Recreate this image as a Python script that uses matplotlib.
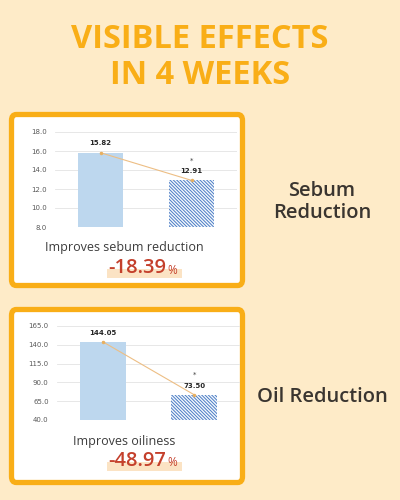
import matplotlib
matplotlib.use("Agg")
import matplotlib.pyplot as plt
from matplotlib.patches import FancyBboxPatch, Rectangle

# data
groups = ["Before", "4 weeks"]
sebum_values = [15.82, 12.91]
sebum_ticks = [8.0, 10.0, 12.0, 14.0, 16.0, 18.0]
oil_values = [144.05, 73.50]
oil_ticks = [40.0, 65.0, 90.0, 115.0, 140.0, 165.0]

title_lines = ["VISIBLE EFFECTS", "IN 4 WEEKS"]
panel_captions = ["Improves sebum reduction", "Improves oiliness"]
panel_changes = ["-18.39", "-48.97"]
side_labels = ["Sebum\nReduction", "Oil Reduction"]

BG = "#FEEBC8"
ORANGE = "#F9AE17"
RED = "#C4402C"
DARK = "#3A3530"

plt.rcParams["hatch.linewidth"] = 0.7

W, H = 400, 500
fig = plt.figure(figsize=(4, 5), dpi=100)
fig.patch.set_facecolor(BG)


def px_rect(x0, y0, x1, y1):
    # pixel box (top-left origin) -> figure fraction rect
    return [x0 / W, 1 - y1 / H, (x1 - x0) / W, (y1 - y0) / H]


# title
fig.text(0.5, 1 - 40 / H, title_lines[0], ha="center", va="center",
         fontsize=23.5, fontweight="bold", color=ORANGE, family="Open Sans")
fig.text(0.5, 1 - 76 / H, title_lines[1], ha="center", va="center",
         fontsize=23.5, fontweight="bold", color=ORANGE, family="Open Sans")


def draw_panel(top, bottom, ax_box, values, ticks, caption, change, side, side_y):
    # white card with orange frame
    x0, y0, w, h = px_rect(11.5, top + 2.5, 242.5, bottom - 2.5)
    card = FancyBboxPatch((x0, y0), w, h, boxstyle="round,pad=0,rounding_size=0.012",
                          transform=fig.transFigure, facecolor="white",
                          edgecolor=ORANGE, linewidth=3.8, zorder=0)
    fig.patches.append(card)

    ax = fig.add_axes(px_rect(*ax_box))
    ax.set_zorder(2)
    ax.patch.set_alpha(0)
    x = range(len(values))
    ax.bar(0, values[0], width=0.5, color="#BDD7EE", zorder=2)
    ax.bar(1, values[1], width=0.5, color="#F4F8FD", edgecolor="#4A7CC4",
           hatch="\\" * 10, linewidth=0, zorder=2)
    ax.plot(list(x), values, color="#EDBE84", linewidth=0.8, marker="o",
            markersize=2.5, markerfacecolor="#E8B060", markeredgewidth=0, zorder=3)
    for i, v in enumerate(values):
        ax.annotate(f"{v:.2f}", (i, v), xytext=(0, 4.5), textcoords="offset points",
                    ha="center", va="bottom", fontsize=5, fontweight="bold",
                    color="#262626")
    ax.annotate("*", (1, values[1]), xytext=(0, 12), textcoords="offset points",
                ha="center", va="bottom", fontsize=5, color="#404040")

    ax.set_xlim(-0.5, 1.5)
    ax.set_ylim(ticks[0], ticks[-1])
    ax.set_yticks(ticks)
    ax.set_yticklabels([f"{t:.1f}" for t in ticks])
    ax.tick_params(axis="y", length=0, labelsize=5, labelcolor="#595959", pad=6)
    ax.set_xticks([])
    ax.grid(axis="y", color="#E3E3E3", linewidth=0.6, zorder=0)
    for s in ax.spines.values():
        s.set_visible(False)

    # caption and percentage
    cap_y = ax_box[3] + 21
    fig.text(124 / W, 1 - cap_y / H, caption, ha="center", va="center",
             fontsize=9, color="#3C3C3C", family="Open Sans")
    pct_y = cap_y + 20
    hx0, hy0, hw, hh = px_rect(107, pct_y + 1, 182, pct_y + 10)
    fig.patches.append(Rectangle((hx0, hy0), hw, hh, transform=fig.transFigure,
                                 facecolor="#FBE3C4", edgecolor="none", zorder=1))
    fig.text(166 / W, 1 - pct_y / H, change, ha="right", va="center",
             fontsize=14.5, color=RED, family="Open Sans", fontweight="semibold")
    fig.text(167 / W, 1 - (pct_y + 2) / H, "%", ha="left", va="center",
             fontsize=8.5, color=RED, family="Open Sans")

    fig.text(322 / W, 1 - side_y / H, side, ha="center", va="center",
             fontsize=14.5, color=DARK, family="Open Sans", fontweight="semibold",
             linespacing=1.2)


draw_panel(112, 288, (55, 132, 237, 227), sebum_values, sebum_ticks,
           panel_captions[0], panel_changes[0], side_labels[0], 202)
draw_panel(307, 485, (57, 326, 240, 420), oil_values, oil_ticks,
           panel_captions[1], panel_changes[1], side_labels[1], 397)

fig.savefig("out.png", dpi=100, facecolor=BG)
